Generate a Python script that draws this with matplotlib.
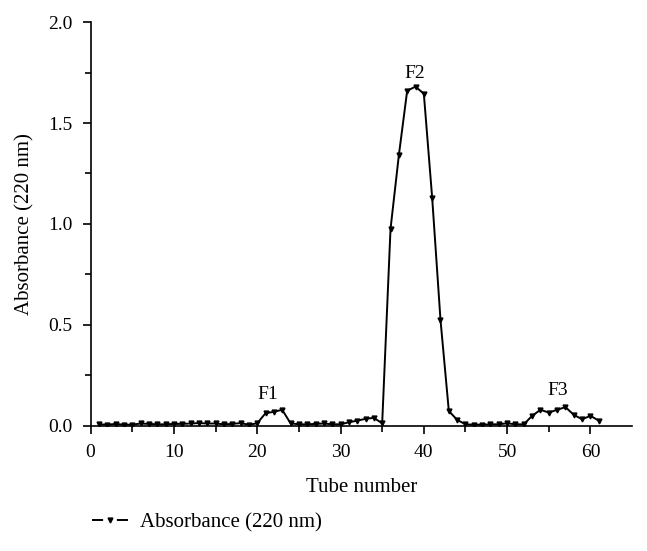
import matplotlib
matplotlib.use('Agg')
import matplotlib.pyplot as plt
from matplotlib.lines import Line2D
import numpy as np

plt.rcParams['font.family'] = ['Liberation Serif', 'DejaVu Serif']
plt.rcParams['font.size'] = 14

# Data
tube = np.arange(1, 62)
absorbance = [
    0.008, 0.006, 0.010, 0.006, 0.006, 0.012, 0.010, 0.008, 0.008, 0.010,   # 1-10
    0.010, 0.012, 0.014, 0.012, 0.012, 0.008, 0.010, 0.014, 0.006, 0.013,   # 11-20
    0.063, 0.070, 0.080, 0.013, 0.008, 0.008, 0.010, 0.012, 0.008, 0.008,   # 21-30
    0.018, 0.026, 0.035, 0.040, 0.013, 0.975, 1.340, 1.660, 1.680, 1.645,   # 31-40
    1.130, 0.525, 0.074, 0.030, 0.008, 0.006, 0.006, 0.008, 0.008, 0.013,   # 41-50
    0.008, 0.008, 0.050, 0.080, 0.066, 0.080, 0.093, 0.055, 0.033, 0.050,   # 51-60
    0.026,                                                                  # 61
]
peak_labels = ['F1', 'F2', 'F3']
peak_x = [21.3, 38.9, 56.1]
peak_y = [0.155, 1.745, 0.175]

fig = plt.figure(figsize=(6.47, 5.51), dpi=100)
ax = fig.add_axes([0.14, 0.227, 0.837, 0.733])

ax.plot(tube, absorbance, color='black', lw=1.4, marker='v', markersize=3.5)

for lab, px, py in zip(peak_labels, peak_x, peak_y):
    ax.text(px, py, lab, ha='center', va='center', fontsize=14)

ax.set_xlim(0, 65)
ax.set_ylim(0, 2.0)
ax.set_xticks([0, 10, 20, 30, 40, 50, 60])
ax.set_xticks(np.arange(5, 65, 10), minor=True)
ax.set_yticks([0.0, 0.5, 1.0, 1.5, 2.0])
ax.set_yticks([0.25, 0.75, 1.25, 1.75], minor=True)
ax.yaxis.set_major_formatter(matplotlib.ticker.FormatStrFormatter('%.1f'))
ax.tick_params(which='major', direction='out', length=6, width=1.2, pad=7)
ax.tick_params(which='minor', direction='out', length=4, width=1.2)
ax.spines['top'].set_visible(False)
ax.spines['right'].set_visible(False)
ax.spines['left'].set_linewidth(1.2)
ax.spines['bottom'].set_linewidth(1.2)

ax.set_xlabel('Tube number', fontsize=15, labelpad=12)
ax.set_ylabel('Absorbance (220 nm)', fontsize=15, labelpad=10)

# legend handle: dash, marker, dash
handle = Line2D([0], [0], color='black', lw=1.4, ls=(0, (5.7, 7.1)),
                marker='v', markersize=3.5)
fig.legend(handles=[handle], labels=['Absorbance (220 nm)'], loc='center left',
           bbox_to_anchor=(0.113, 0.052), frameon=False, fontsize=15,
           handlelength=1.73, handletextpad=0.6)

fig.savefig('out.png', dpi=100)
